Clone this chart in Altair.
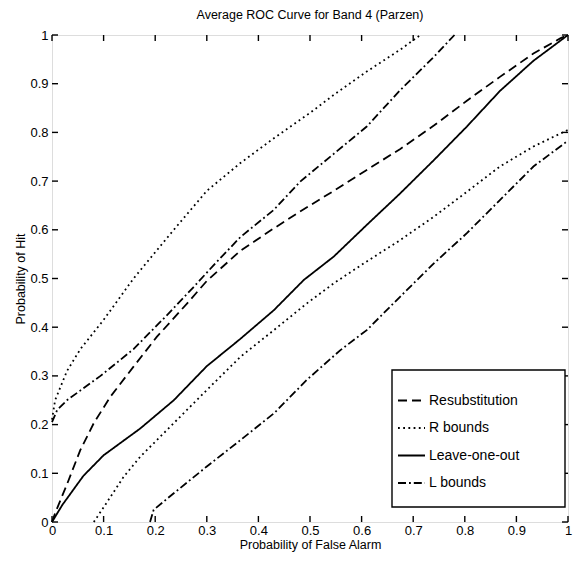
import altair as alt
import pandas as pd

# ---- data ----
resub_x = [0, 0.006, 0.03, 0.055, 0.081, 0.113, 0.158, 0.203, 0.262, 0.3, 0.365, 0.43, 0.48, 0.546, 0.61, 0.675, 0.74, 0.804, 0.868, 0.933, 0.985, 1.0]
resub_y = [0, 0.018, 0.08, 0.148, 0.203, 0.257, 0.319, 0.38, 0.449, 0.495, 0.557, 0.603, 0.637, 0.68, 0.723, 0.766, 0.814, 0.865, 0.914, 0.962, 0.993, 1.0]

rup_x = [0, 0.006, 0.029, 0.055, 0.1, 0.158, 0.236, 0.3, 0.365, 0.43, 0.5, 0.546, 0.61, 0.675, 0.714]
rup_y = [0.21, 0.25, 0.31, 0.355, 0.415, 0.5, 0.6, 0.68, 0.737, 0.788, 0.84, 0.877, 0.925, 0.97, 1.0]
rlo_x = [0.081, 0.1, 0.139, 0.171, 0.236, 0.3, 0.365, 0.43, 0.494, 0.546, 0.61, 0.675, 0.74, 0.804, 0.868, 0.933, 0.97, 1.0]
rlo_y = [0, 0.03, 0.093, 0.134, 0.203, 0.271, 0.339, 0.394, 0.449, 0.49, 0.535, 0.579, 0.627, 0.678, 0.73, 0.771, 0.79, 0.805]

loo_x = [0, 0.02, 0.061, 0.1, 0.171, 0.236, 0.3, 0.365, 0.43, 0.488, 0.546, 0.61, 0.675, 0.74, 0.804, 0.868, 0.933, 1.0]
loo_y = [0, 0.035, 0.095, 0.137, 0.192, 0.25, 0.32, 0.376, 0.435, 0.497, 0.545, 0.61, 0.675, 0.743, 0.812, 0.885, 0.947, 1.0]

lup_x = [0, 0.01, 0.029, 0.094, 0.158, 0.223, 0.274, 0.313, 0.365, 0.43, 0.481, 0.546, 0.61, 0.675, 0.74, 0.78]
lup_y = [0.205, 0.23, 0.25, 0.3, 0.355, 0.425, 0.482, 0.527, 0.585, 0.641, 0.699, 0.756, 0.812, 0.887, 0.955, 1.0]
llo_x = [0.19, 0.197, 0.236, 0.3, 0.365, 0.43, 0.494, 0.559, 0.61, 0.675, 0.74, 0.804, 0.868, 0.933, 1.0]
llo_y = [0, 0.025, 0.059, 0.114, 0.168, 0.223, 0.292, 0.353, 0.394, 0.463, 0.531, 0.593, 0.661, 0.73, 0.783]

series_names = ["Resubstitution", "R bounds", "Leave-one-out", "L bounds"]
tick_values = [0, 0.1, 0.2, 0.3, 0.4, 0.5, 0.6, 0.7, 0.8, 0.9, 1]

curves = [
    ("Resubstitution", "resub", resub_x, resub_y),
    ("R bounds", "rup", rup_x, rup_y),
    ("R bounds", "rlo", rlo_x, rlo_y),
    ("Leave-one-out", "loo", loo_x, loo_y),
    ("L bounds", "lup", lup_x, lup_y),
    ("L bounds", "llo", llo_x, llo_y),
]
rows = []
for name, cid, xs, ys in curves:
    for i, (a, b) in enumerate(zip(xs, ys)):
        rows.append({"series": name, "curve": cid, "x": a, "y": b, "i": i})
df = pd.DataFrame(rows)
ticks = pd.DataFrame({"v": tick_values})

W, H = 516, 487
FONT = "Liberation Sans"

xscale = alt.Scale(domain=[0, 1], nice=False, zero=False)
yscale = alt.Scale(domain=[0, 1], nice=False, zero=False)
x_axis = alt.Axis(values=tick_values, format="~g", title="Probability of False Alarm",
                  grid=False, domain=False, ticks=False,
                  labelFlush=False, labelOverlap=False, labelPadding=2, titlePadding=1,
                  labelFontSize=13, titleFontSize=12.5, titleFontWeight="normal")
y_axis = alt.Axis(values=tick_values, format="~g", title="Probability of Hit",
                  grid=False, domain=False, ticks=False,
                  labelFlush=False, labelOverlap=False, labelPadding=4, titlePadding=2,
                  labelFontSize=13, titleFontSize=12.5, titleFontWeight="normal")

lines = alt.Chart(df).mark_line(color="black", strokeWidth=1.8).encode(
    x=alt.X("x:Q", scale=xscale, axis=x_axis),
    y=alt.Y("y:Q", scale=yscale, axis=y_axis),
    detail="curve:N",
    order="i:Q",
    strokeDash=alt.StrokeDash(
        "series:N",
        scale=alt.Scale(domain=series_names,
                        range=[[9, 5], [1.8, 3.4], [1, 0], [8, 3, 1.8, 3]]),
        legend=alt.Legend(title=None, orient="none", legendX=345, legendY=351,
                          symbolType="stroke", symbolSize=729, symbolStrokeWidth=1.8,
                          symbolStrokeColor="black", labelFont=FONT, labelFontSize=14,
                          labelColor="black", labelOffset=3, rowPadding=5.5, padding=0),
    ),
)

box = alt.Chart(pd.DataFrame({"k": [0]})).mark_rect(
    fill="white", stroke="black", strokeWidth=1.4
).encode(x=alt.value(340), x2=alt.value(513), y=alt.value(335), y2=alt.value(472))

tb = alt.Chart(ticks).mark_rule(color="black", strokeWidth=1.4).encode(
    x=alt.X("v:Q", scale=xscale, axis=x_axis), y=alt.value(H), y2=alt.value(H - 6))
tt = alt.Chart(ticks).mark_rule(color="black", strokeWidth=1.4).encode(
    x=alt.X("v:Q", scale=xscale, axis=x_axis), y=alt.value(0), y2=alt.value(6))
tl = alt.Chart(ticks).mark_rule(color="black", strokeWidth=1.4).encode(
    y=alt.Y("v:Q", scale=yscale, axis=y_axis), x=alt.value(0), x2=alt.value(6))
tr = alt.Chart(ticks).mark_rule(color="black", strokeWidth=1.4).encode(
    y=alt.Y("v:Q", scale=yscale, axis=y_axis), x=alt.value(W), x2=alt.value(W - 6))

chart = alt.layer(lines, tb, tt, tl, tr, box).properties(
    width=W, height=H,
    title=alt.TitleParams("Average ROC Curve for Band 4 (Parzen)", font=FONT, fontSize=12.5,
                          fontWeight="normal", color="black", anchor="middle",
                          frame="group", offset=8),
    autosize=alt.AutoSizeParams(type="none"),
    padding={"left": 52, "top": 35, "right": 7, "bottom": 43},
).configure_view(stroke="black", strokeWidth=1.8).configure_axis(
    domain=False, ticks=False, grid=False, labelFont=FONT,
    labelColor="black", titleFont=FONT, titleColor="black",
).configure(background="white")

chart.save("out.html", embed_options={"renderer": "svg", "actions": False})
